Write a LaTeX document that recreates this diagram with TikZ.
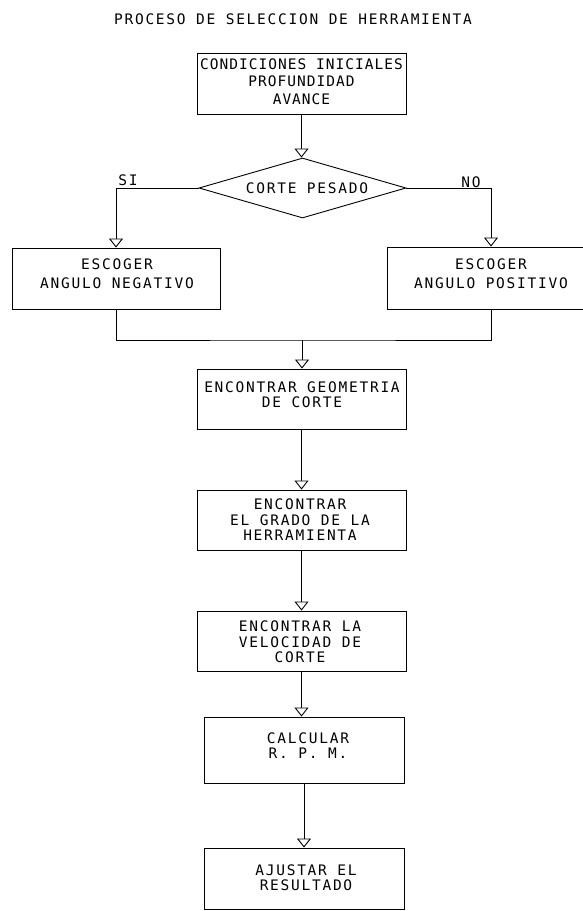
\documentclass[tikz,border=0pt]{standalone}
\usepackage{fontspec}
\usetikzlibrary{shapes.geometric,arrows.meta}
\newfontfamily\cad[LetterSpace=12]{DejaVu Sans Mono}
\newfontfamily\cadnarrow[LetterSpace=7]{DejaVu Sans Mono}
\begin{document}
\begin{tikzpicture}[x=1pt,y=-1pt,
  every node/.style={font=\cad\fontsize{14.5}{15.5}\selectfont},
  box/.style={draw,line width=0.9pt,rectangle,inner sep=0pt},
  dia/.style={draw,line width=0.9pt,diamond,aspect=3.45,minimum width=207pt,minimum height=60pt,inner sep=0pt},
  txt/.style={inner sep=0pt,align=center},
  conn/.style={line width=0.9pt},
  arr/.style={line width=0.9pt,-{Triangle[open,width=14pt,length=9pt]}}]
\useasboundingbox (0,0) rectangle (582,911);
\node[txt] (title) at (293,19) {PROCESO DE SELECCION DE HERRAMIENTA};
% boxes
\node[box,minimum width=209pt,minimum height=61pt] (b1) at (301.5,83.5) {};
\node[dia] (d) at (302.5,188) {};
\node[box,minimum width=208pt,minimum height=61pt] (L) at (116,278.5) {};
\node[box,minimum width=208pt,minimum height=62pt] (R) at (491,278) {};
\coordinate (m) at (302,340);
\node[box,minimum width=209pt,minimum height=60pt] (b3) at (301.5,399) {};
\node[box,minimum width=209pt,minimum height=60pt] (b4) at (301.5,520) {};
\node[box,minimum width=209pt,minimum height=60pt] (b5) at (301.5,641) {};
\node[box,minimum width=200pt,minimum height=66pt] (b6) at (304,750) {};
\node[box,minimum width=200pt,minimum height=61pt] (b7) at (304,878.5) {};
% texts
\node[txt,font=\cadnarrow\fontsize{14.5}{17.5}\selectfont] (t1) at (301.5,81.5)
  {CONDICIONES INICIALES\\PROFUNDIDAD\\AVANCE};
\node[txt] (td) at (307,188) {CORTE PESADO};
\node[txt] (si) at (128,180) {SI};
\node[txt] (no) at (471,182) {NO};
\node[txt,font=\cad\fontsize{14.5}{19.5}\selectfont] (tL) at (117,273.5)
  {ESCOGER\\ANGULO NEGATIVO};
\node[txt,font=\cad\fontsize{14.5}{19.5}\selectfont] (tR) at (491,273.5)
  {ESCOGER\\ANGULO POSITIVO};
\node[txt] (t3) at (302,394.5) {ENCONTRAR GEOMETRIA\\DE CORTE};
\node[txt] (t4) at (300,520) {ENCONTRAR\\EL GRADO DE LA\\HERRAMIENTA};
\node[txt] (t5) at (300,642) {ENCONTRAR LA\\VELOCIDAD DE\\CORTE};
\node[txt] (t6) at (308,745.5) {CALCULAR\\R. P. M.};
\node[txt] (t7) at (306,877.5) {AJUSTAR EL\\RESULTADO};
% connectors
\draw[arr] (b1.south) -- (b1.south |- d.north);
\draw[arr] (d.west) -| (L.north);
\draw[arr] (d.east) -| (R.north);
\draw[conn] (L.south) |- (m) -| (R.south);
\draw[arr] (m) -- (m |- b3.north);
\draw[arr] (b3.south) -- (b4.north);
\draw[arr] (b4.south) -- (b5.north);
\draw[arr] (b5.south) -- (b5.south |- b6.north);
\draw[arr] (b6.south) -- (b7.north);
\end{tikzpicture}
\end{document}
